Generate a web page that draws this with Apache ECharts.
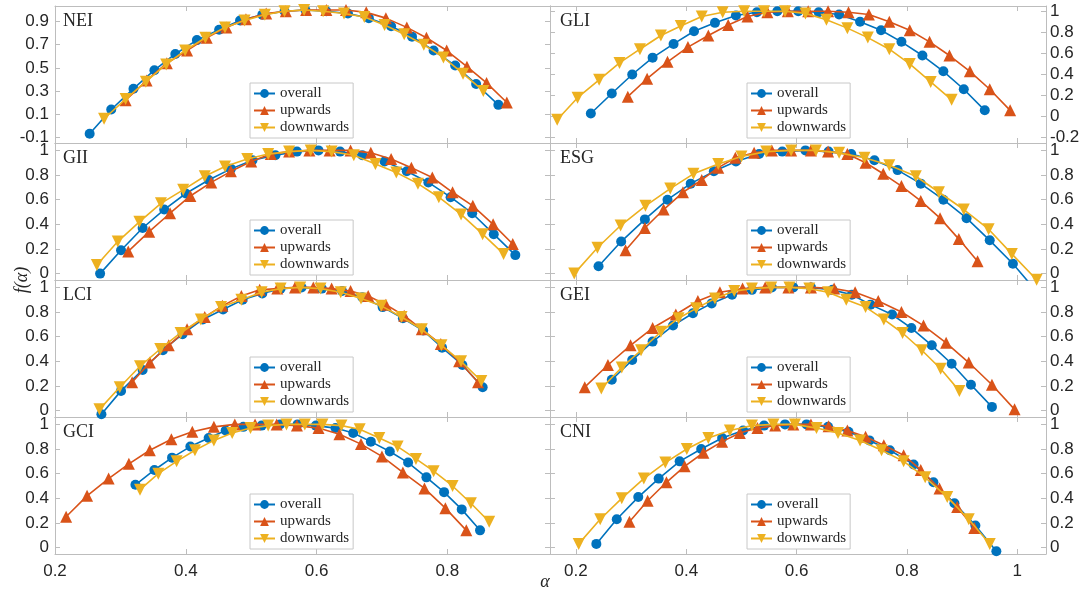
<!DOCTYPE html>
<html><head><meta charset="utf-8">
<script src="https://cdn.jsdelivr.net/npm/echarts@6/dist/echarts.min.js"></script>
<style>html,body{margin:0;padding:0;background:#fff}#c{width:1084px;height:593px}</style>
</head><body><div id="c"></div>
<script>
// ---------------- DATA ----------------
const panelNames = ['NEI','GLI','GII','ESG','LCI','GEI','GCI','CNI'];
const seriesNames = ['overall','upwards','downwards'];

const NEI_overall = [[0.253,-0.07],[0.286,0.14],[0.320,0.32],[0.352,0.48],[0.384,0.62],[0.417,0.74],[0.451,0.83],[0.483,0.91],[0.517,0.96],[0.551,0.99],[0.583,1.00],[0.615,0.99],[0.648,0.97],[0.680,0.93],[0.714,0.86],[0.746,0.77],[0.779,0.65],[0.812,0.52],[0.844,0.36],[0.878,0.18]];
const NEI_upwards = [[0.308,0.22],[0.340,0.39],[0.371,0.54],[0.402,0.65],[0.432,0.76],[0.462,0.85],[0.492,0.92],[0.523,0.97],[0.553,0.99],[0.584,1.00],[0.615,1.00],[0.645,1.00],[0.676,0.98],[0.706,0.93],[0.738,0.85],[0.768,0.76],[0.799,0.65],[0.830,0.51],[0.860,0.37],[0.891,0.20]];
const NEI_downwards = [[0.275,0.06],[0.308,0.23],[0.339,0.38],[0.370,0.53],[0.399,0.65],[0.430,0.76],[0.460,0.85],[0.490,0.91],[0.521,0.96],[0.551,0.99],[0.581,1.00],[0.610,0.99],[0.642,0.97],[0.673,0.94],[0.704,0.87],[0.734,0.79],[0.764,0.70],[0.794,0.59],[0.824,0.45],[0.855,0.30]];

const GLI_overall = [[0.227,0.03],[0.265,0.22],[0.302,0.40],[0.339,0.56],[0.377,0.69],[0.414,0.81],[0.452,0.89],[0.490,0.96],[0.528,0.99],[0.565,1.00],[0.603,1.00],[0.640,0.99],[0.677,0.97],[0.715,0.90],[0.753,0.82],[0.790,0.71],[0.828,0.58],[0.866,0.43],[0.903,0.26],[0.941,0.06]];
const GLI_upwards = [[0.294,0.19],[0.329,0.36],[0.366,0.52],[0.403,0.66],[0.440,0.77],[0.476,0.87],[0.511,0.95],[0.547,0.99],[0.584,1.00],[0.621,1.00],[0.657,1.00],[0.694,0.99],[0.731,0.97],[0.768,0.90],[0.805,0.82],[0.841,0.71],[0.877,0.58],[0.914,0.43],[0.950,0.26],[0.987,0.06]];
const GLI_downwards = [[0.166,-0.03],[0.203,0.18],[0.242,0.35],[0.279,0.51],[0.316,0.64],[0.354,0.77],[0.390,0.86],[0.428,0.95],[0.466,0.99],[0.505,1.00],[0.541,1.00],[0.579,1.00],[0.616,0.98],[0.654,0.92],[0.692,0.84],[0.729,0.75],[0.768,0.64],[0.805,0.50],[0.843,0.33],[0.881,0.16]];

const GII_overall = [[0.269,0.00],[0.301,0.19],[0.334,0.37],[0.367,0.52],[0.400,0.65],[0.435,0.76],[0.469,0.85],[0.502,0.92],[0.537,0.96],[0.570,0.99],[0.603,1.00],[0.636,0.99],[0.670,0.96],[0.704,0.91],[0.738,0.83],[0.771,0.74],[0.805,0.62],[0.838,0.49],[0.871,0.32],[0.904,0.15]];
const GII_upwards = [[0.312,0.18],[0.344,0.34],[0.376,0.49],[0.407,0.63],[0.439,0.74],[0.469,0.83],[0.500,0.91],[0.530,0.97],[0.558,0.99],[0.589,1.00],[0.620,1.00],[0.652,1.00],[0.683,0.98],[0.714,0.93],[0.745,0.86],[0.777,0.78],[0.808,0.66],[0.839,0.55],[0.870,0.40],[0.900,0.24]];
const GII_downwards = [[0.264,0.07],[0.296,0.26],[0.329,0.42],[0.362,0.57],[0.396,0.68],[0.429,0.79],[0.460,0.87],[0.494,0.93],[0.526,0.97],[0.558,0.99],[0.591,1.00],[0.623,0.99],[0.657,0.96],[0.690,0.89],[0.722,0.82],[0.755,0.73],[0.787,0.62],[0.821,0.48],[0.854,0.32],[0.886,0.16]];

const ESG_overall = [[0.241,0.06],[0.282,0.26],[0.325,0.44],[0.366,0.60],[0.408,0.73],[0.450,0.83],[0.490,0.91],[0.532,0.97],[0.574,0.99],[0.616,1.00],[0.658,0.99],[0.699,0.97],[0.741,0.92],[0.783,0.84],[0.825,0.73],[0.866,0.60],[0.908,0.45],[0.950,0.27],[0.992,0.08],[1.034,-0.14]];
const ESG_upwards = [[0.290,0.19],[0.325,0.37],[0.359,0.52],[0.394,0.66],[0.428,0.76],[0.458,0.86],[0.489,0.94],[0.523,0.98],[0.555,1.00],[0.590,1.00],[0.626,1.00],[0.657,0.99],[0.692,0.97],[0.725,0.90],[0.757,0.81],[0.790,0.71],[0.825,0.59],[0.860,0.45],[0.894,0.28],[0.928,0.10]];
const ESG_downwards = [[0.197,0.00],[0.239,0.21],[0.281,0.39],[0.326,0.55],[0.371,0.69],[0.413,0.81],[0.458,0.89],[0.500,0.95],[0.545,0.99],[0.590,1.00],[0.635,1.00],[0.677,0.98],[0.723,0.94],[0.768,0.88],[0.816,0.79],[0.858,0.66],[0.903,0.52],[0.948,0.36],[0.990,0.16],[1.035,-0.05]];

const LCI_overall = [[0.271,-0.03],[0.301,0.16],[0.334,0.33],[0.365,0.49],[0.395,0.62],[0.426,0.74],[0.457,0.82],[0.487,0.90],[0.517,0.95],[0.545,0.99],[0.577,1.00],[0.608,0.99],[0.639,0.97],[0.670,0.92],[0.701,0.84],[0.732,0.75],[0.763,0.65],[0.792,0.51],[0.823,0.37],[0.854,0.19]];
const LCI_upwards = [[0.318,0.23],[0.345,0.39],[0.374,0.53],[0.402,0.66],[0.429,0.76],[0.456,0.85],[0.485,0.93],[0.513,0.98],[0.540,0.99],[0.567,1.00],[0.595,1.00],[0.623,0.99],[0.652,0.97],[0.679,0.93],[0.706,0.86],[0.734,0.77],[0.761,0.66],[0.790,0.54],[0.818,0.40],[0.847,0.23]];
const LCI_downwards = [[0.268,0.01],[0.299,0.19],[0.330,0.36],[0.361,0.50],[0.392,0.63],[0.423,0.74],[0.454,0.84],[0.485,0.90],[0.516,0.96],[0.545,0.99],[0.575,1.00],[0.606,0.99],[0.637,0.96],[0.668,0.91],[0.699,0.85],[0.730,0.76],[0.761,0.66],[0.791,0.53],[0.821,0.40],[0.852,0.24]];

const GEI_overall = [[0.265,0.25],[0.302,0.41],[0.339,0.56],[0.376,0.69],[0.412,0.79],[0.446,0.87],[0.483,0.94],[0.519,0.98],[0.555,1.00],[0.594,1.00],[0.626,1.00],[0.665,0.98],[0.700,0.94],[0.734,0.86],[0.773,0.78],[0.808,0.67],[0.845,0.53],[0.881,0.38],[0.916,0.21],[0.954,0.03]];
const GEI_upwards = [[0.216,0.19],[0.258,0.37],[0.299,0.53],[0.339,0.67],[0.381,0.78],[0.421,0.89],[0.461,0.96],[0.502,0.99],[0.543,1.00],[0.585,1.00],[0.626,1.00],[0.668,0.99],[0.706,0.96],[0.748,0.89],[0.790,0.80],[0.830,0.69],[0.871,0.55],[0.912,0.39],[0.954,0.21],[0.995,0.01]];
const GEI_downwards = [[0.246,0.18],[0.283,0.35],[0.318,0.49],[0.354,0.64],[0.386,0.75],[0.418,0.83],[0.452,0.91],[0.487,0.97],[0.519,0.99],[0.554,1.00],[0.587,1.00],[0.623,0.99],[0.657,0.96],[0.690,0.90],[0.725,0.84],[0.758,0.74],[0.792,0.63],[0.827,0.49],[0.861,0.34],[0.895,0.16]];

const GCI_overall = [[0.323,0.51],[0.352,0.63],[0.379,0.73],[0.407,0.82],[0.435,0.89],[0.461,0.95],[0.488,0.98],[0.516,0.99],[0.544,1.00],[0.571,1.00],[0.599,0.99],[0.629,0.97],[0.656,0.93],[0.683,0.86],[0.712,0.78],[0.740,0.69],[0.768,0.57],[0.795,0.45],[0.822,0.31],[0.850,0.14]];
const GCI_upwards = [[0.217,0.25],[0.249,0.42],[0.282,0.56],[0.313,0.68],[0.345,0.79],[0.378,0.88],[0.410,0.94],[0.443,0.98],[0.475,1.00],[0.506,1.00],[0.539,1.00],[0.570,0.99],[0.603,0.97],[0.635,0.92],[0.668,0.84],[0.700,0.74],[0.732,0.61],[0.765,0.48],[0.797,0.32],[0.829,0.14]];
const GCI_downwards = [[0.330,0.47],[0.358,0.60],[0.386,0.70],[0.414,0.79],[0.443,0.87],[0.471,0.93],[0.499,0.97],[0.526,0.99],[0.554,1.00],[0.582,1.00],[0.609,1.00],[0.638,0.99],[0.666,0.96],[0.696,0.89],[0.724,0.82],[0.752,0.72],[0.779,0.62],[0.808,0.50],[0.836,0.36],[0.864,0.21]];

const CNI_overall = [[0.237,0.03],[0.274,0.23],[0.313,0.41],[0.350,0.56],[0.388,0.70],[0.427,0.80],[0.465,0.89],[0.503,0.95],[0.541,0.99],[0.579,1.00],[0.618,1.00],[0.657,0.98],[0.694,0.94],[0.732,0.87],[0.769,0.79],[0.812,0.675],[0.848,0.53],[0.886,0.36],[0.924,0.18],[0.962,-0.03]];
const CNI_upwards = [[0.297,0.21],[0.330,0.38],[0.364,0.53],[0.397,0.66],[0.431,0.77],[0.465,0.86],[0.497,0.93],[0.529,0.97],[0.561,0.99],[0.594,1.00],[0.626,1.00],[0.658,0.985],[0.692,0.95],[0.725,0.90],[0.758,0.83],[0.794,0.75],[0.825,0.63],[0.859,0.48],[0.891,0.33],[0.922,0.16]];
const CNI_downwards = [[0.205,0.03],[0.244,0.23],[0.283,0.40],[0.323,0.56],[0.362,0.69],[0.401,0.80],[0.440,0.89],[0.479,0.95],[0.519,0.99],[0.558,1.00],[0.597,1.00],[0.636,0.97],[0.675,0.93],[0.715,0.87],[0.754,0.79],[0.794,0.70],[0.833,0.57],[0.873,0.41],[0.912,0.23],[0.950,0.03]];

const panelSeries = {
  NEI:[NEI_overall,NEI_upwards,NEI_downwards], GLI:[GLI_overall,GLI_upwards,GLI_downwards],
  GII:[GII_overall,GII_upwards,GII_downwards], ESG:[ESG_overall,ESG_upwards,ESG_downwards],
  LCI:[LCI_overall,LCI_upwards,LCI_downwards], GEI:[GEI_overall,GEI_upwards,GEI_downwards],
  GCI:[GCI_overall,GCI_upwards,GCI_downwards], CNI:[CNI_overall,CNI_upwards,CNI_downwards]
};

// axis ticks / ranges
const leftXTicks = [0.2,0.4,0.6,0.8];
const rightXTicks = [0.2,0.4,0.6,0.8,1];
const leftXRange = [0.2,0.957];
const rightXRange = [0.153,1.052];
const NEI_yTicks = [-0.1,0.1,0.3,0.5,0.7,0.9];
const GLI_yTicks = [-0.2,0,0.2,0.4,0.6,0.8,1];
const std_yTicks = [0,0.2,0.4,0.6,0.8,1];
const NEI_yRange = [-0.15,1.035];
const GLI_yRange = [-0.25,1.05];
const std_yRange = [-0.052,1.06];

// ---------------- STYLE ----------------
const colors = ['#0072BD','#D95319','#EDB120'];
const symbols = ['circle','triangle','triangle'];
const symRot = [0,0,180];
const symSize = [10,12,12];
const axisColor = '#bdbdbd';
const textColor = '#262626';

const grid=[], xAxis=[], yAxis=[], series=[], legend=[], graphic=[];

panelNames.forEach((name,i)=>{
  const row = Math.floor(i/2), col = i%2;
  const gl = col===0?55:550, gw = col===0?495:496;
  const gt = 6 + row*137, gh = 137;
  grid.push({left:gl, top:gt, width:gw, height:gh});
  const xr = col===0?leftXRange:rightXRange;
  const xt = col===0?leftXTicks:rightXTicks;
  const yt = name==='NEI'?NEI_yTicks:(name==='GLI'?GLI_yTicks:std_yTicks);
  const yr = name==='NEI'?NEI_yRange:(name==='GLI'?GLI_yRange:std_yRange);
  const line = {show:true, onZero:false, lineStyle:{color:axisColor, width:1}};
  const tick = (vals)=>({show:true, inside:true, length:5, customValues:vals, lineStyle:{color:axisColor, width:1}});
  const lbl = {color:textColor, fontFamily:'Liberation Sans', fontSize:17};
  xAxis.push({type:'value', gridIndex:i, position:'bottom', min:xr[0], max:xr[1],
    splitLine:{show:false}, axisLine:line, axisTick:tick(xt),
    axisLabel:Object.assign({show:row===3, customValues:xt, margin:9}, lbl)});
  xAxis.push({type:'value', gridIndex:i, position:'top', min:xr[0], max:xr[1],
    splitLine:{show:false}, axisLine:line, axisTick:tick(xt), axisLabel:{show:false}});
  yAxis.push({type:'value', gridIndex:i, position:col===0?'left':'right', min:yr[0], max:yr[1],
    splitLine:{show:false}, axisLine:line, axisTick:tick(yt),
    axisLabel:Object.assign({show:true, customValues:yt, margin:col===0?6:4}, lbl)});
  yAxis.push({type:'value', gridIndex:i, position:col===0?'right':'left', min:yr[0], max:yr[1],
    splitLine:{show:false}, axisLine:line, axisTick:tick(yt), axisLabel:{show:false}});

  panelSeries[name].forEach((d,k)=>{
    series.push({type:'line', name:seriesNames[k], xAxisIndex:2*i, yAxisIndex:2*i, data:d,
      symbol:symbols[k], symbolRotate:symRot[k], symbolSize:symSize[k], showSymbol:true, clip:true,
      lineStyle:{color:colors[k], width:1.6}, itemStyle:{color:colors[k]},
      emphasis:{disabled:true}, z:2+k});
  });

  legend.push({orient:'vertical', left:col===0?250:747, top:gt+77, data:seriesNames.slice(),
    selectedMode:false, backgroundColor:'#ffffff', borderColor:'#c8c8c8', borderWidth:1, borderRadius:0,
    padding:[2,4,2,3], itemGap:0, itemWidth:21, itemHeight:11,
    textStyle:{color:textColor, fontFamily:'Liberation Serif', fontSize:15, lineHeight:17}});

  graphic.push({type:'text', left:col===0?63:560, top:gt+6, z:10,
    style:{text:name, font:'18px "Liberation Serif"', fill:textColor}});
});

graphic.push({type:'text', x:22, y:280, rotation:Math.PI/2, z:10,
  style:{text:'f(α)', font:'italic 18px "Liberation Serif"', fill:textColor, textAlign:'center', textVerticalAlign:'middle'}});
graphic.push({type:'text', x:545, y:582, z:10,
  style:{text:'α', font:'italic 18px "Liberation Serif"', fill:textColor, textAlign:'center', textVerticalAlign:'middle'}});

const chart = echarts.init(document.getElementById('c'), null, {renderer:'canvas'});
chart.setOption({animation:false, backgroundColor:'#ffffff', grid, xAxis, yAxis, series, legend, graphic});
</script>
</body></html>
